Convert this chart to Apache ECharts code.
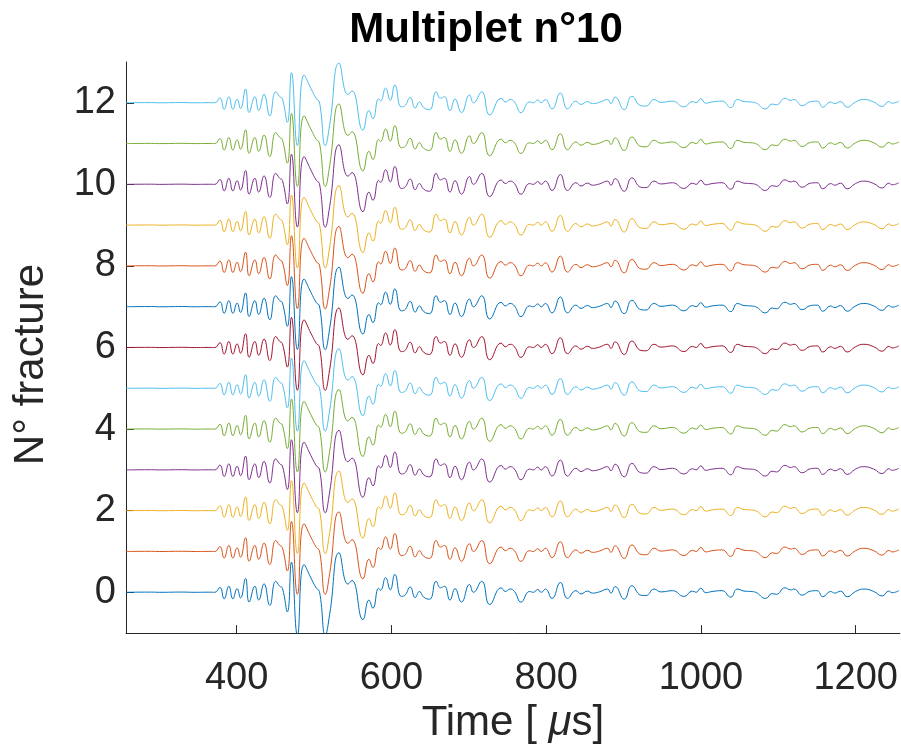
<!DOCTYPE html>
<html>
<head>
<meta charset="utf-8">
<script src="https://cdn.jsdelivr.net/npm/echarts@6/dist/echarts.min.js"></script>
<style>
html,body{margin:0;padding:0;background:#fff;}
#chart{width:901px;height:749px;}
</style>
</head>
<body>
<div id="chart"></div>
<script>
// Time samples (µs) of the waveform's turning points
const timeUs = [257,290,300,330,345,365,371.8,378.3,383.8,389.9,395.1,400.6,405,411.5,416.1,423.5,428.5,435.4,442.8,450.5,455.7,459.1,465.5,470.8,478.5,487.1,496,503,507,514.6,520.2,532.3,543.8,549,563.2,570.9,576.1,583.4,586,592.5,598.5,604.4,612.6,617,624.2,630.7,636.2,641.8,649.3,657.8,663.4,668.5,675.6,682.2,690.5,700.9,706,716.7,727,741.7,747.3,753.3,759,767.5,778.3,783.5,789,793.6,798.9,807.5,818.3,827.6,838.4,845,853.4,859.8,868.6,879.3,883.6,889.1,900.8,910.7,922.3,928.8,939.5,948.1,963.1,978.2,988.9,993.7,999.7,1006.2,1014.4,1027.3,1038.5,1047,1055.7,1064.3,1070.6,1083.5,1092,1097.3,1108.5,1115.9,1120.2,1130.8,1141.7,1150.2,1157.5,1167.5,1173,1180.4,1188.9,1199.7,1210.4,1223.3,1234.1,1242.8,1247,1255.7];
// Normalised amplitude of the multiplet waveform at those times
const waveAmp = [0,0.005,0,0.006,0,0.003,0,0.12,-0.16,0.15,-0.16,0.09,-0.14,0.34,-0.24,0.15,-0.19,0.21,-0.32,0.27,0.15,0.10,-0.48,0.74,-1.05,0.68,0.35,0.10,0.02,-1.05,-0.54,0.97,0.20,0.29,-0.67,-0.19,-0.39,0.10,0.05,0.36,0.06,0.44,-0.10,-0.08,0.13,-0.13,0.02,-0.12,-0.17,0.27,0.11,0.15,-0.19,0.09,-0.24,0.19,0.0,0.27,-0.30,0.11,0.02,0.08,0.02,-0.24,0.02,0.0,0.07,0.0,0.08,-0.15,0.24,-0.15,0.04,-0.04,0.03,-0.02,0.01,0.08,-0.02,0.14,-0.17,0.16,-0.07,-0.08,0.08,0.01,0.04,-0.10,0.03,0.0,0.10,-0.01,0.02,0.04,-0.12,0.08,0.03,0.02,0.0,-0.15,-0.03,-0.05,0.11,0.06,0.08,-0.07,0.03,0.04,-0.11,0.02,-0.02,0.03,-0.11,0.02,0.08,0.02,-0.09,0.03,-0.01,0.04];
const traceIds = [0,1,2,3,4,5,6,7,8,9,10,11,12];
const traceColors = ['#0072BD','#D95319','#EDB120','#7E2F8E','#77AC30','#4DBEEE','#A2142F','#0072BD','#D95319','#EDB120','#7E2F8E','#77AC30','#4DBEEE'];
const yTickValues = [0,2,4,6,8,10,12];
const xTickValues = [400,600,800,1000,1200];

const chart = echarts.init(document.getElementById('chart'), null, {renderer:'canvas'});
const axisColor = '#262626';
const font = '"Liberation Sans", Arial, Helvetica, sans-serif';

const series = traceIds.map((id, k) => ({
  type: 'line',
  name: String(id),
  data: timeUs.map((t, i) => [t, id + waveAmp[i]]),
  showSymbol: false,
  smooth: 0.5,
  lineStyle: {color: traceColors[k], width: 1},
  itemStyle: {color: traceColors[k]},
  clip: true,
  silent: true,
  z: 2
}));

chart.setOption({
  animation: false,
  backgroundColor: '#fff',
  title: {
    text: 'Multiplet n°10',
    left: 481,
    textAlign: 'center',
    top: 4,
    textStyle: {fontFamily: font, fontWeight: 'bold', fontSize: 42, color: '#000'}
  },
  grid: {left: 126, right: 0, top: 62, bottom: 114, containLabel: false},
  xAxis: {
    type: 'value',
    min: 257, max: 1257,
    name: 'Time [ {i|μ}s]',
    nameLocation: 'middle',
    nameGap: 64,
    nameTextStyle: {fontFamily: font, fontSize: 42, color: axisColor,
      rich: {i: {fontFamily: font, fontSize: 42, fontStyle: 'italic', color: axisColor}}},
    axisLine: {show: true, onZero: false, lineStyle: {color: axisColor, width: 1}},
    axisTick: {show: true, inside: true, length: 8, customValues: xTickValues, lineStyle: {color: axisColor}},
    axisLabel: {customValues: xTickValues, formatter: v => String(v), fontFamily: font, fontSize: 38, color: axisColor, margin: 26},
    splitLine: {show: false}
  },
  yAxis: {
    type: 'value',
    min: -1, max: 13,
    name: 'N° fracture',
    nameLocation: 'middle',
    nameRotate: 90,
    nameGap: 74,
    nameTextStyle: {fontFamily: font, fontSize: 42, color: axisColor, padding: [0, 34, 0, 0]},
    axisLine: {show: true, onZero: false, lineStyle: {color: axisColor, width: 1}},
    axisTick: {show: true, inside: true, length: 8, customValues: yTickValues, lineStyle: {color: axisColor}},
    axisLabel: {customValues: yTickValues, formatter: v => String(v), fontFamily: font, fontSize: 38, color: axisColor, margin: 10},
    splitLine: {show: false}
  },
  series: series
});
</script>
</body>
</html>
